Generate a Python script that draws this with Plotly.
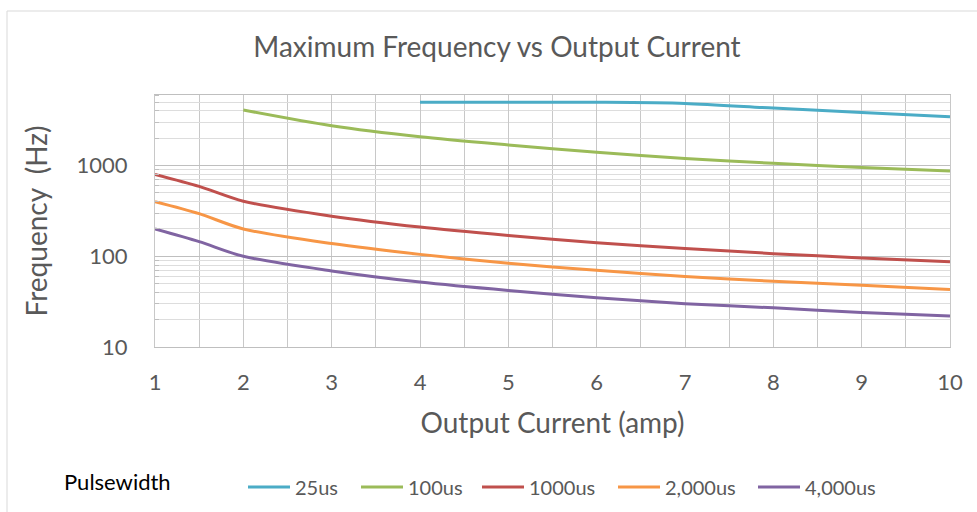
import plotly.graph_objects as go
import math

# ---- data ----
x_25us = [4, 5, 6, 7, 8, 9, 10]
y_25us = [5000, 5000, 4990, 4850, 4300, 3850, 3450]

x_100us = [2, 3, 4, 5, 6, 7, 8, 9, 10]
y_100us = [4100, 2750, 2080, 1690, 1400, 1200, 1060, 950, 870]

x_1000us = [1, 1.5, 2, 3, 4, 5, 6, 7, 8, 9, 10]
y_1000us = [800, 590, 405, 277, 210, 170, 141, 122, 107, 96, 87]

x_2000us = [1, 1.5, 2, 3, 4, 5, 6, 7, 8, 9, 10]
y_2000us = [400, 295, 200, 138, 105, 84, 70, 60, 53, 48, 43]

x_4000us = [1, 1.5, 2, 3, 4, 5, 6, 7, 8, 9, 10]
y_4000us = [200, 145, 100, 69, 52, 42, 35, 30, 27, 24, 22]

series_names = ["25us", "100us", "1000us", "2,000us", "4,000us"]
series_colors = ["#4BACC6", "#9BBB59", "#C0504D", "#F79646", "#8064A2"]
x_ticks = [1, 2, 3, 4, 5, 6, 7, 8, 9, 10]
y_ticks = [10, 100, 1000]

title_text = "Maximum Frequency vs Output Current"
x_title = "Output Current (amp)"
y_title = "Frequency\u00a0 (Hz)"
legend_label = "Pulsewidth"

FONT = "Lato"
GREY = "#595959"

W, H = 977, 512
L, R, T, B = 155, 27, 95, 165
pw, ph = W - L - R, H - T - B

def px_x(p):
    return (p - L) / pw

def px_y(p):
    return (H - B - p) / ph

# pixel left edges of the legend entries (one legend box per series)
legend_left_px = [243, 356, 477, 613, 753]

fig = go.Figure()
xs = [x_25us, x_100us, x_1000us, x_2000us, x_4000us]
ys = [y_25us, y_100us, y_1000us, y_2000us, y_4000us]
legend_layout = {}
for i, (name, color, xv, yv) in enumerate(zip(series_names, series_colors, xs, ys)):
    lname = "legend" if i == 0 else f"legend{i + 1}"
    fig.add_trace(go.Scatter(
        x=xv, y=yv, name=name, mode="lines", legend=lname,
        line=dict(color=color, width=3, shape="spline", smoothing=0.8),
    ))
    legend_layout[lname] = dict(
        orientation="h", x=px_x(legend_left_px[i]), xanchor="left",
        y=px_y(487), yanchor="middle",
        font=dict(family=FONT, size=20, color=GREY),
        itemwidth=42, bgcolor="rgba(0,0,0,0)",
    )

fig.update_layout(
    width=W, height=H,
    margin=dict(l=L, r=R, t=T, b=B, pad=0, autoexpand=False),
    paper_bgcolor="white", plot_bgcolor="white",
    font=dict(family=FONT, color=GREY),
    title=dict(text=title_text, x=497 / W, xref="container", xanchor="center",
               y=1 - 47 / H, yref="container", yanchor="middle",
               font=dict(family=FONT, size=28, color=GREY)),
    showlegend=True,
    annotations=[dict(text=legend_label, x=px_x(62), xref="paper", xanchor="left",
                      y=px_y(481), yref="paper", yanchor="middle", showarrow=False,
                      font=dict(family=FONT, size=22, color="black"))],
    shapes=[dict(type="rect", xref="paper", yref="paper",
                 x0=px_x(7), x1=px_x(990), y0=px_y(525), y1=px_y(11),
                 line=dict(color="#D9D9D9", width=1), fillcolor="rgba(0,0,0,0)", layer="below")],
    **legend_layout,
)

fig.update_xaxes(
    range=[1, 10], tickvals=x_ticks, ticktext=[str(v) for v in x_ticks],
    showgrid=True, gridcolor="#C8C8C8", gridwidth=1.3,
    minor=dict(dtick=0.5, showgrid=True, gridcolor="#C8C8C8", gridwidth=1.3),
    showline=True, linecolor="#BFBFBF", linewidth=1, mirror=True,
    ticks="", ticklabelstandoff=16, automargin=False,
    tickfont=dict(family=FONT, size=22, color=GREY),
    title=dict(text=x_title, font=dict(family=FONT, size=28, color=GREY), standoff=18),
    zeroline=False,
)
fig.update_yaxes(
    type="log", range=[1, math.log10(6000)],
    tickvals=y_ticks, ticktext=[str(v) for v in y_ticks],
    showgrid=True, gridcolor="#BFBFBF", gridwidth=1.3,
    minor=dict(dtick="D1", showgrid=True, gridcolor="#DDDDDD", gridwidth=1,
               ticks="inside", ticklen=4, tickcolor="#BFBFBF"),
    showline=True, linecolor="#C8C8C8", linewidth=1, mirror=True,
    ticks="", ticklabelstandoff=22, automargin=False,
    tickfont=dict(family=FONT, size=22, color=GREY),
    title=dict(text=y_title, font=dict(family=FONT, size=28, color=GREY), standoff=20),
    zeroline=False,
)

fig.write_html("out.html", config={"displayModeBar": False},
               post_script="document.body.style.margin='0';")
